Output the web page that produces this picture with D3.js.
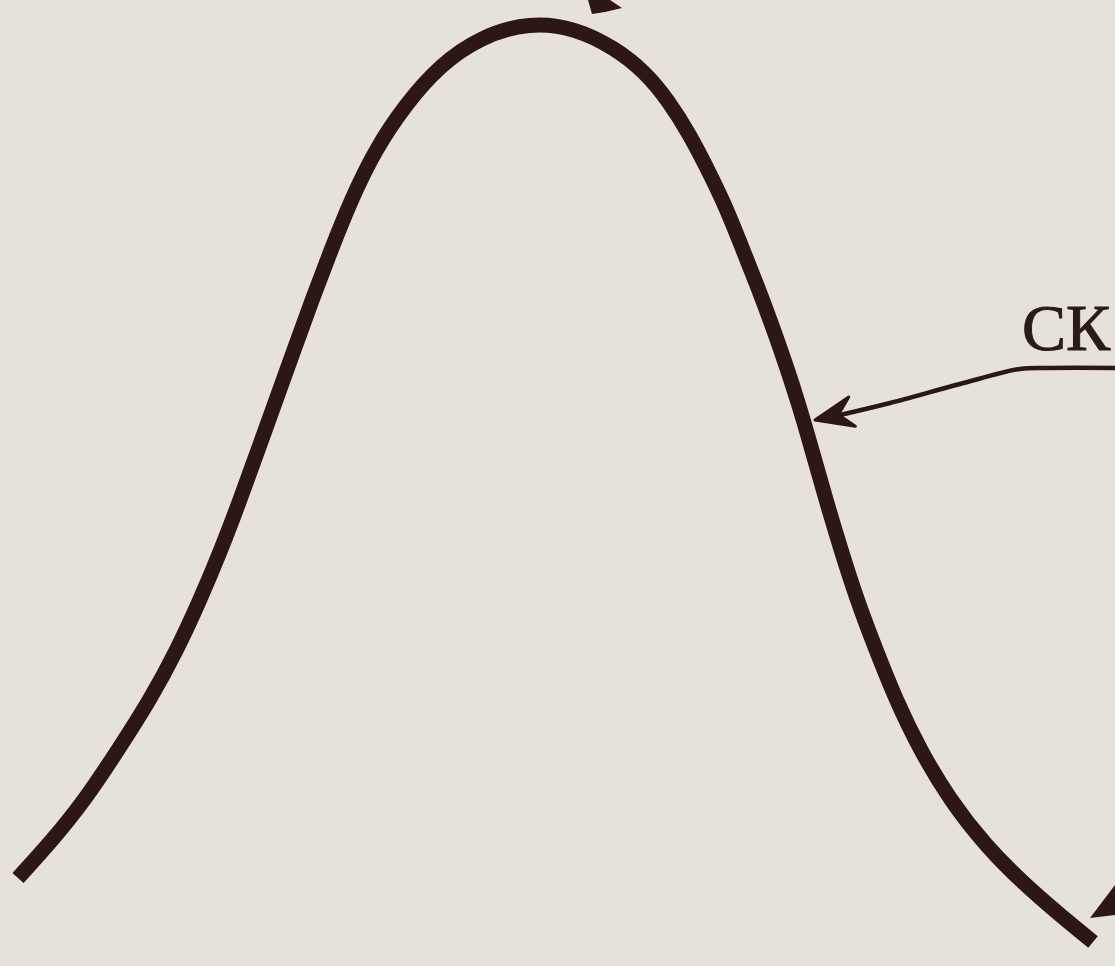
<!DOCTYPE html>
<html>
<head>
<meta charset="utf-8">
<script src="https://cdn.jsdelivr.net/npm/d3@7"></script>
<style>
  html, body { margin: 0; padding: 0; background: #e7e1dc; }
  svg { display: block; }
</style>
</head>
<body>
<script>
// Curve sample points (x: 0..111.5, y: 0..96.6 units)
const curveX = [1.8, 5.0, 8.5, 11.8, 15.0, 17.7, 20.0, 22.1, 24.0, 25.8, 27.6, 29.4, 31.2, 33.1, 35.1, 37.5, 40.5, 44.0, 48.0, 53.0,
                57.5, 61.5, 64.5, 66.8, 69.0, 70.8, 72.5, 74.1, 75.7, 77.2, 78.6, 79.9, 81.2, 82.6, 84.1, 85.7, 87.6, 89.6, 92.0, 95.0, 98.5, 102.5, 106.0, 109.3];
const curveY = [8.8, 12.3, 16.6, 21.6, 26.6, 31.6, 36.6, 41.6, 46.6, 51.6, 56.6, 61.6, 66.6, 71.6, 76.6, 81.6, 86.1, 90.1, 92.9, 94.4,
                93.8, 91.8, 89.4, 86.6, 83.1, 79.6, 76.1, 72.1, 68.1, 64.1, 60.1, 56.1, 51.6, 46.6, 41.6, 36.6, 31.6, 26.6, 21.6, 16.6, 12.1, 8.1, 5.1, 2.4];

// Annotation: label and its leader line
const labelText = "СК";
const labelPos = [102.2, 61.6];
const leaderX = [111.5, 105.0, 102.0, 96.0, 89.0, 84.0];
const leaderY = [59.8, 59.8, 59.7, 58.2, 56.3, 55.1];
const arrowTip = [81.5, 54.6];

// Partial marks cut off at the picture edges
const topMarkX = [58.8, 61.0, 62.2, 60.5, 59.2];
const topMarkY = [96.6, 96.6, 95.8, 95.4, 95.2];
const cornerMarkX = [109.0, 111.5, 111.5];
const cornerMarkY = [4.8, 8.1, 5.1];

const W = 1115, H = 966;
const x = d3.scaleLinear().domain([0, 111.5]).range([0, W]);
const y = d3.scaleLinear().domain([0, 96.6]).range([H, 0]);

const svg = d3.select("body").append("svg").attr("width", W).attr("height", H);
svg.append("rect").attr("width", W).attr("height", H).attr("fill", "#e7e1dc");

const ink = "#2c1715";

const pts = curveX.map((d, i) => [d, curveY[i]]);
svg.append("path")
  .attr("d", d3.line().x(d => x(d[0])).y(d => y(d[1])).curve(d3.curveBasis)(pts))
  .attr("fill", "none")
  .attr("stroke", ink)
  .attr("stroke-width", 15)
  .attr("stroke-linecap", "butt")
  .attr("stroke-linejoin", "round");

// leader line
const lpts = leaderX.map((d, i) => [d, leaderY[i]]);
svg.append("path")
  .attr("d", d3.line().x(d => x(d[0])).y(d => y(d[1])).curve(d3.curveCatmullRom)(lpts))
  .attr("fill", "none")
  .attr("stroke", ink)
  .attr("stroke-width", 4.5);

// arrowhead at the curve
const tx = x(arrowTip[0]), ty = y(arrowTip[1]);
const ang = Math.atan2(y(leaderY[4]) - ty, x(leaderX[4]) - tx);
const L = 38, Wd = 15, notch = 24;
const ux = Math.cos(ang), uy = Math.sin(ang), px = -uy, py = ux;
svg.append("path")
  .attr("d", `M${tx},${ty} L${tx + ux * L + px * Wd},${ty + uy * L + py * Wd} L${tx + ux * notch},${ty + uy * notch} L${tx + ux * L - px * Wd},${ty + uy * L - py * Wd} Z`)
  .attr("fill", ink)
  .attr("stroke", ink)
  .attr("stroke-width", 3)
  .attr("stroke-linejoin", "round");

// label
svg.append("text")
  .attr("x", x(labelPos[0]))
  .attr("y", y(labelPos[1]))
  .attr("font-family", "Liberation Serif, DejaVu Serif, serif")
  .attr("font-size", 66)
  .attr("fill", "#2a1a18")
  .attr("stroke", "#2a1a18")
  .attr("stroke-width", 1)
  .text(labelText);

// partial marks
const poly = (xs, ys) => "M" + xs.map((d, i) => x(d) + "," + y(ys[i])).join("L") + "Z";
svg.append("path").attr("d", poly(topMarkX, topMarkY)).attr("fill", ink);
svg.append("path").attr("d", poly(cornerMarkX, cornerMarkY)).attr("fill", ink);
</script>
</body>
</html>
